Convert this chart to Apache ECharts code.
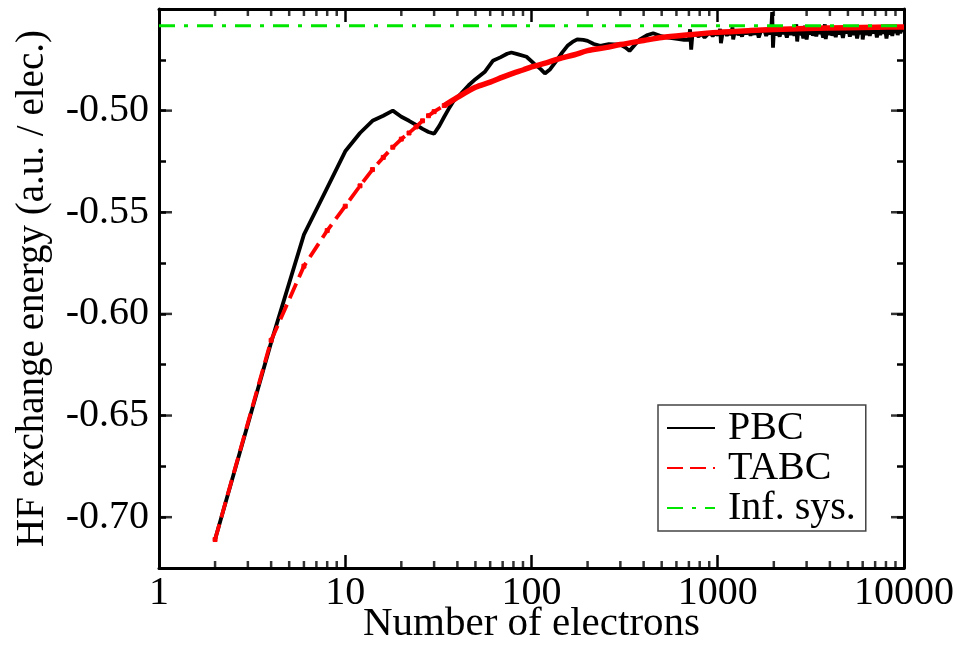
<!DOCTYPE html>
<html>
<head>
<meta charset="utf-8">
<script src="https://cdn.jsdelivr.net/npm/echarts@6/dist/echarts.min.js"></script>
<style>
html,body{margin:0;padding:0;background:#fff;}
#chart{width:979px;height:645px;}
</style>
</head>
<body>
<div id="chart"></div>
<script>
// ---- data ----
const pbcN = [2,4,6,8,10,12,14,16,18,20,22,24,26,28,30,32,34,36,38,42,46,50,56,62,68,74,78,84,94,104,112,118,126,136,146,156,166,176,190,200,216,234,260,300,320,336,360,380,420,450,490,
  530,580,620,660,
  700,710,720,730,760,790,820,850,880,910,
  940,970,1000,1020,1030,1040,1060,1090,1120,1150,
  1180,1200,1210,1230,1260,1290,1320,1350,1380,1420,
  1460,1500,1540,1580,1620,1660,1700,1740,1780,1820,
  1860,1900,1940,1960,1980,2000,2050,2100,2150,2200,
  2250,2300,2350,2400,2460,2520,2580,2640,2670,2700,
  2760,2820,2880,2940,3000,3050,3100,3170,3240,3310,
  3380,3450,3520,3600,3680,3760,3800,3850,3940,4030,
  4120,4210,4300,4400,4500,4600,4700,4800,4900,5000,
  5120,5240,5360,5480,5600,5720,5840,5960,6000,6100,
  6250,6400,6550,6700,6850,7000,7150,7300,7450,7600,
  7750,7900,8050,8200,8350,8500,8650,8800,8950,9100,
  9250,9400,9550,9700,9850,10000];
const pbcE = [-0.711,-0.614,-0.561,-0.538,-0.520,-0.511,-0.505,-0.5025,-0.500,-0.503,-0.505,-0.507,-0.509,-0.5105,-0.5114,-0.5075,-0.503,-0.499,-0.4955,-0.4915,-0.4875,-0.4845,-0.481,-0.4755,-0.4738,-0.472,-0.4714,-0.4722,-0.4735,-0.4771,-0.4796,-0.4817,-0.4796,-0.4755,-0.4715,-0.4681,-0.4662,-0.4649,-0.4652,-0.4657,-0.4672,-0.4681,-0.4673,-0.4675,-0.469,-0.4706,-0.4675,-0.4651,-0.4628,-0.4619,-0.4632,
  -0.4640,-0.4645,-0.4648,-0.4652,
  -0.4650,-0.4600,-0.4700,-0.4632,-0.4624,-0.4635,-0.4622,-0.4640,-0.4626,-0.4618,
  -0.4633,-0.4620,-0.4628,-0.4615,-0.4598,-0.4668,-0.4622,-0.4612,-0.4630,-0.4617,
  -0.4625,-0.4590,-0.4650,-0.4618,-0.4608,-0.4628,-0.4612,-0.4635,-0.4609,-0.4622,
  -0.4606,-0.4630,-0.4611,-0.4624,-0.4602,-0.4640,-0.4612,-0.4620,-0.4605,-0.4632,
  -0.4608,-0.4625,-0.4590,-0.4515,-0.4690,-0.4615,-0.4628,-0.4605,-0.4636,-0.4600,
  -0.4622,-0.4610,-0.4640,-0.4603,-0.4627,-0.4598,-0.4632,-0.4575,-0.4660,-0.4612,
  -0.4628,-0.4600,-0.4645,-0.4582,-0.4650,-0.4606,-0.4625,-0.4598,-0.4630,-0.4610,
  -0.4634,-0.4596,-0.4622,-0.4604,-0.4640,-0.4575,-0.4648,-0.4608,-0.4626,-0.4597,
  -0.4631,-0.4602,-0.4638,-0.4590,-0.4624,-0.4606,-0.4642,-0.4598,-0.4620,-0.4585,
  -0.4636,-0.4600,-0.4628,-0.4594,-0.4645,-0.4602,-0.4624,-0.4580,-0.4650,-0.4605,
  -0.4626,-0.4596,-0.4632,-0.4600,-0.4620,-0.4585,-0.4640,-0.4603,-0.4628,-0.4594,
  -0.4622,-0.4590,-0.4645,-0.4600,-0.4625,-0.4588,-0.4632,-0.4596,-0.4618,-0.4592,
  -0.4628,-0.4595,-0.4620,-0.4590,-0.4612,-0.4592];

const tabcN = [2,4,6,8,10,12,14,16,18,20,22,24,26,28,30,34,40,50,60,70,80,90,100,120,140,170,200,250,300,400,500,700,1000,1500,2000,3000,5000,7000,10000];
const tabcE = [-0.711,-0.613,-0.5765,-0.559,-0.547,-0.537,-0.529,-0.523,-0.518,-0.514,-0.511,-0.508,-0.505,-0.5025,-0.5005,-0.4975,-0.4935,-0.4885,-0.486,-0.4835,-0.4815,-0.480,-0.4785,-0.4765,-0.4745,-0.4725,-0.4705,-0.469,-0.4675,-0.4655,-0.464,-0.4627,-0.4615,-0.4606,-0.4601,-0.4596,-0.4592,-0.459,-0.4588];
const tabcDashEnd = 34;   // TABC drawn dashed up to this N, then as a dense solid band

const infN = [1, 10000];
const infE = [-0.4583, -0.4583];

const xTickLabels = [1, 10, 100, 1000, 10000];
const xMinorTicks = [2,3,4,5,6,7,8,9,20,30,40,50,60,70,80,90,200,300,400,500,600,700,800,900,2000,3000,4000,5000,6000,7000,8000,9000];
const yMajorTicks = [-0.70,-0.65,-0.60,-0.55,-0.50];

// ---- build ----
const FONT = 'Liberation Serif';
const pairs = (xs, ys) => xs.map((x, i) => [x, ys[i]]);
const pbc = pairs(pbcN, pbcE);
const tabc = pairs(tabcN, tabcE);
const tabcDash = tabc.filter(p => p[0] <= tabcDashEnd);
const tabcSolid = tabc.filter(p => p[0] >= tabcDashEnd);
const inf = pairs(infN, infE);
const yMin = -0.725, yMax = -0.45;
const xMin = xTickLabels[0], xMax = xTickLabels[xTickLabels.length - 1];

const axisLine = {show: true, lineStyle: {color: '#000', width: 3}};
const xAxisCommon = {
  type: 'log', logBase: 10, min: xMin, max: xMax,
  axisLine: axisLine,
  axisTick: {show: true, inside: true, length: 13, lineStyle: {color: '#000', width: 2.5}},
  splitLine: {show: false}, minorTick: {show: false}
};
const yAxisCommon = {
  type: 'value', min: yMin, max: yMax, interval: 0.025,
  axisLine: axisLine,
  axisTick: {show: true, inside: true, length: 7, lineStyle: {color: '#000', width: 2.5}},
  splitLine: {show: false}
};

const tickMark = (data, size, offset) => ({
  type: 'scatter', silent: true, symbol: 'rect', symbolSize: size, symbolOffset: offset,
  itemStyle: {color: '#000'}, data: data, z: 10, clip: false, animation: false,
  tooltip: {show: false}
});

const chart = echarts.init(document.getElementById('chart'), null, {renderer: 'canvas'});
chart.setOption({
  animation: false,
  backgroundColor: '#fff',
  textStyle: {fontFamily: FONT},
  grid: {left: 159, right: 75, top: 9, bottom: 77, containLabel: false, outerBoundsMode: 'none'},
  xAxis: [
    Object.assign({}, xAxisCommon, {
      position: 'bottom',
      name: 'Number of electrons', nameLocation: 'middle', nameGap: 36, nameMoveOverlap: false,
      nameTextStyle: {fontFamily: FONT, fontSize: 41, color: '#000'},
      axisLabel: {show: true, margin: 5, fontFamily: FONT, fontSize: 40, color: '#000',
        formatter: v => String(Math.round(v))}
    }),
    Object.assign({}, xAxisCommon, {position: 'top', axisLabel: {show: false}})
  ],
  yAxis: [
    Object.assign({}, yAxisCommon, {
      position: 'left',
      name: 'HF exchange energy (a.u. / elec.)', nameLocation: 'middle', nameGap: 107, nameMoveOverlap: false,
      nameTextStyle: {fontFamily: FONT, fontSize: 39, color: '#000'},
      axisLabel: {show: true, margin: 10, fontFamily: FONT, fontSize: 40, color: '#000',
        showMaxLabel: false,
        formatter: v => (Math.abs(v * 20 - Math.round(v * 20)) < 1e-6 && v < -0.46) ? v.toFixed(2) : ''}
    }),
    Object.assign({}, yAxisCommon, {position: 'right', axisLabel: {show: false}})
  ],
  legend: {
    data: ['PBC', 'TABC', 'Inf. sys.'],
    orient: 'vertical', left: 658, top: 405,
    backgroundColor: '#fff', borderColor: '#444', borderWidth: 1.5,
    padding: [3, 10, 3, 8], itemGap: 0, itemWidth: 48, itemHeight: 14,
    itemStyle: {opacity: 0},
    textStyle: {fontFamily: FONT, fontSize: 40, color: '#000', lineHeight: 39, padding: [0, 0, 0, 8]}
  },
  series: [
    {name: 'PBC', type: 'line', data: pbc, symbol: 'none', z: 2,
      lineStyle: {color: '#000', width: 3.8}, itemStyle: {color: '#000'}},
    {name: 'TABC', type: 'line', data: tabcDash, symbol: 'rect', symbolSize: 4, showSymbol: true, z: 3,
      lineStyle: {color: '#ff0000', width: 3.8, type: [16, 7]},
      itemStyle: {color: '#ff0000', borderColor: '#ff0000', borderWidth: 1}},
    {name: 'TABC', type: 'line', data: tabcSolid, symbol: 'none', z: 3, smooth: 0.3,
      lineStyle: {color: '#ff0000', width: 5.5}, itemStyle: {color: '#ff0000'}},
    {name: 'Inf. sys.', type: 'line', data: inf, symbol: 'none', z: 4,
      lineStyle: {color: '#00e600', width: 3, type: [16, 9, 4, 9]}, itemStyle: {color: '#00e600'}},
    tickMark(yMajorTicks.map(v => [xMin, v]), [13, 2.5], [6.5, 0]),
    tickMark(yMajorTicks.map(v => [xMax, v]), [13, 2.5], [-6.5, 0]),
    tickMark(xMinorTicks.map(v => [v, yMin]), [2.5, 7], [0, -3.5]),
    tickMark(xMinorTicks.map(v => [v, yMax]), [2.5, 7], [0, 3.5])
  ]
});
</script>
</body>
</html>
